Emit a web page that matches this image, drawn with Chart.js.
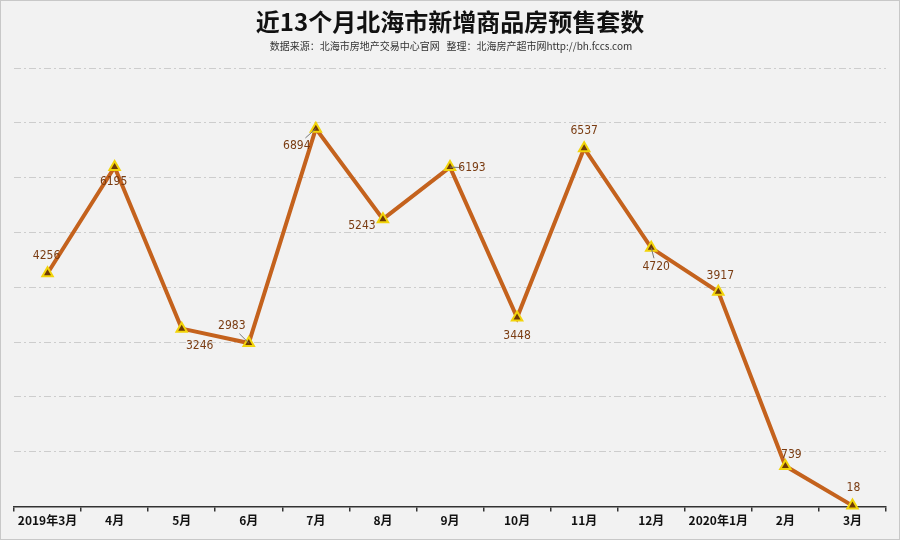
<!DOCTYPE html>
<html><head><meta charset="utf-8">
<script src="https://cdn.jsdelivr.net/npm/chart.js@4"></script>
<style>
html,body{margin:0;padding:0;background:#f2f2f2;}
#wrap{position:relative;width:898px;height:538px;border:1px solid #c8c8c8;background:#f2f2f2;}
canvas{display:block;}
</style></head>
<body><div id="wrap"><canvas id="c" width="898" height="538"></canvas></div>
<script>
const titleText = '近13个月北海市新增商品房预售套数';
const subtitleText = '数据来源：北海市房地产交易中心官网   整理：北海房产超市网http://bh.fccs.com';
const categories = ['2019年3月','4月','5月','6月','7月','8月','9月','10月','11月','12月','2020年1月','2月','3月'];
const salesValues = [4256, 6195, 3246, 2983, 6894, 5243, 6193, 3448, 6537, 4720, 3917, 739, 18];
const yTicks = [0,1000,2000,3000,4000,5000,6000,7000,8000];

// label placement style (offset from the point, in px) and leader line flag
const labelStyle = [
  {dx:-1,dy:-17},{dx:-1,dy:15},{dx:18,dy:17},{dx:-17,dy:-17,lead:true},
  {dx:-19,dy:17,lead:true},{dx:-21,dy:7},{dx:22,dy:1,lead:true},{dx:0,dy:18},
  {dx:0,dy:-17},{dx:5,dy:19,lead:true},{dx:2,dy:-16},{dx:6,dy:-11},{dx:1,dy:-18}
];

const headerPlugin = {
  id:'header',
  afterDraw(chart){
    const ctx = chart.ctx;
    ctx.save();
    ctx.textAlign='center'; ctx.textBaseline='middle';
    ctx.fillStyle='#111';
    ctx.font='bold 24px "Noto Sans CJK SC"';
    ctx.fillText(titleText, 449, 21);
    ctx.fillStyle='#333';
    ctx.font='10px "Noto Sans CJK SC"';
    ctx.fillText(subtitleText, 450, 45);
    ctx.restore();
  }
};

const labelPlugin = {
  id:'valLabels',
  afterDatasetsDraw(chart){
    const ctx = chart.ctx;
    const meta = chart.getDatasetMeta(0);
    ctx.save();
    ctx.font='12px "DejaVu Sans Condensed", "DejaVu Sans"';
    ctx.textAlign='center'; ctx.textBaseline='middle';
    meta.data.forEach((pt,i)=>{
      const s = labelStyle[i];
      const x = pt.x + s.dx, y = pt.y + s.dy;
      if (s.lead){
        ctx.strokeStyle='#777'; ctx.lineWidth=1;
        ctx.beginPath();
        ctx.moveTo(pt.x, pt.y);
        ctx.lineTo(pt.x + s.dx*0.55, pt.y + s.dy*0.55);
        ctx.stroke();
      }
      ctx.fillStyle='#7a3c12';
      ctx.fillText(String(chart.data.datasets[0].data[i]), x, y);
    });
    ctx.restore();
  }
};

new Chart(document.getElementById('c'), {
  type:'line',
  data:{
    labels:categories,
    datasets:[{
      data:salesValues,
      borderColor:'#c4621d',
      borderWidth:4,
      tension:0,
      pointStyle:'triangle',
      pointRadius:6,
      pointHoverRadius:6,
      pointBackgroundColor:'#6e3a05',
      pointBorderColor:'#f2d40a',
      pointBorderWidth:2,
      clip:false
    }]
  },
  options:{
    responsive:false,
    animation:false,
    events:[],
    layout:{padding:{left:13,right:13,top:67,bottom:9}},
    plugins:{legend:{display:false},tooltip:{enabled:false},title:{display:false}},
    scales:{
      x:{
        offset:true,
        grid:{offset:true,drawOnChartArea:false,drawTicks:true,tickLength:5,color:'#333',lineWidth:1.5},
        border:{display:true,color:'#333',width:1.5},
        ticks:{color:'#111',font:{family:'"Noto Sans CJK SC"',size:12,weight:'bold'},padding:2,maxRotation:0,autoSkip:false}
      },
      y:{
        min:0,max:8000,
        afterBuildTicks(axis){axis.ticks = yTicks.map(v=>({value:v}));},
        ticks:{display:false},
        border:{display:false,dash:[7,3,2,3]},
        grid:{color(c){return c.tick.value===0?'rgba(0,0,0,0)':'#cdcdcd';},lineWidth:1,drawTicks:false},
        afterFit(axis){axis.width=0;}
      }
    }
  },
  plugins:[headerPlugin,labelPlugin]
});
</script>
</body></html>
